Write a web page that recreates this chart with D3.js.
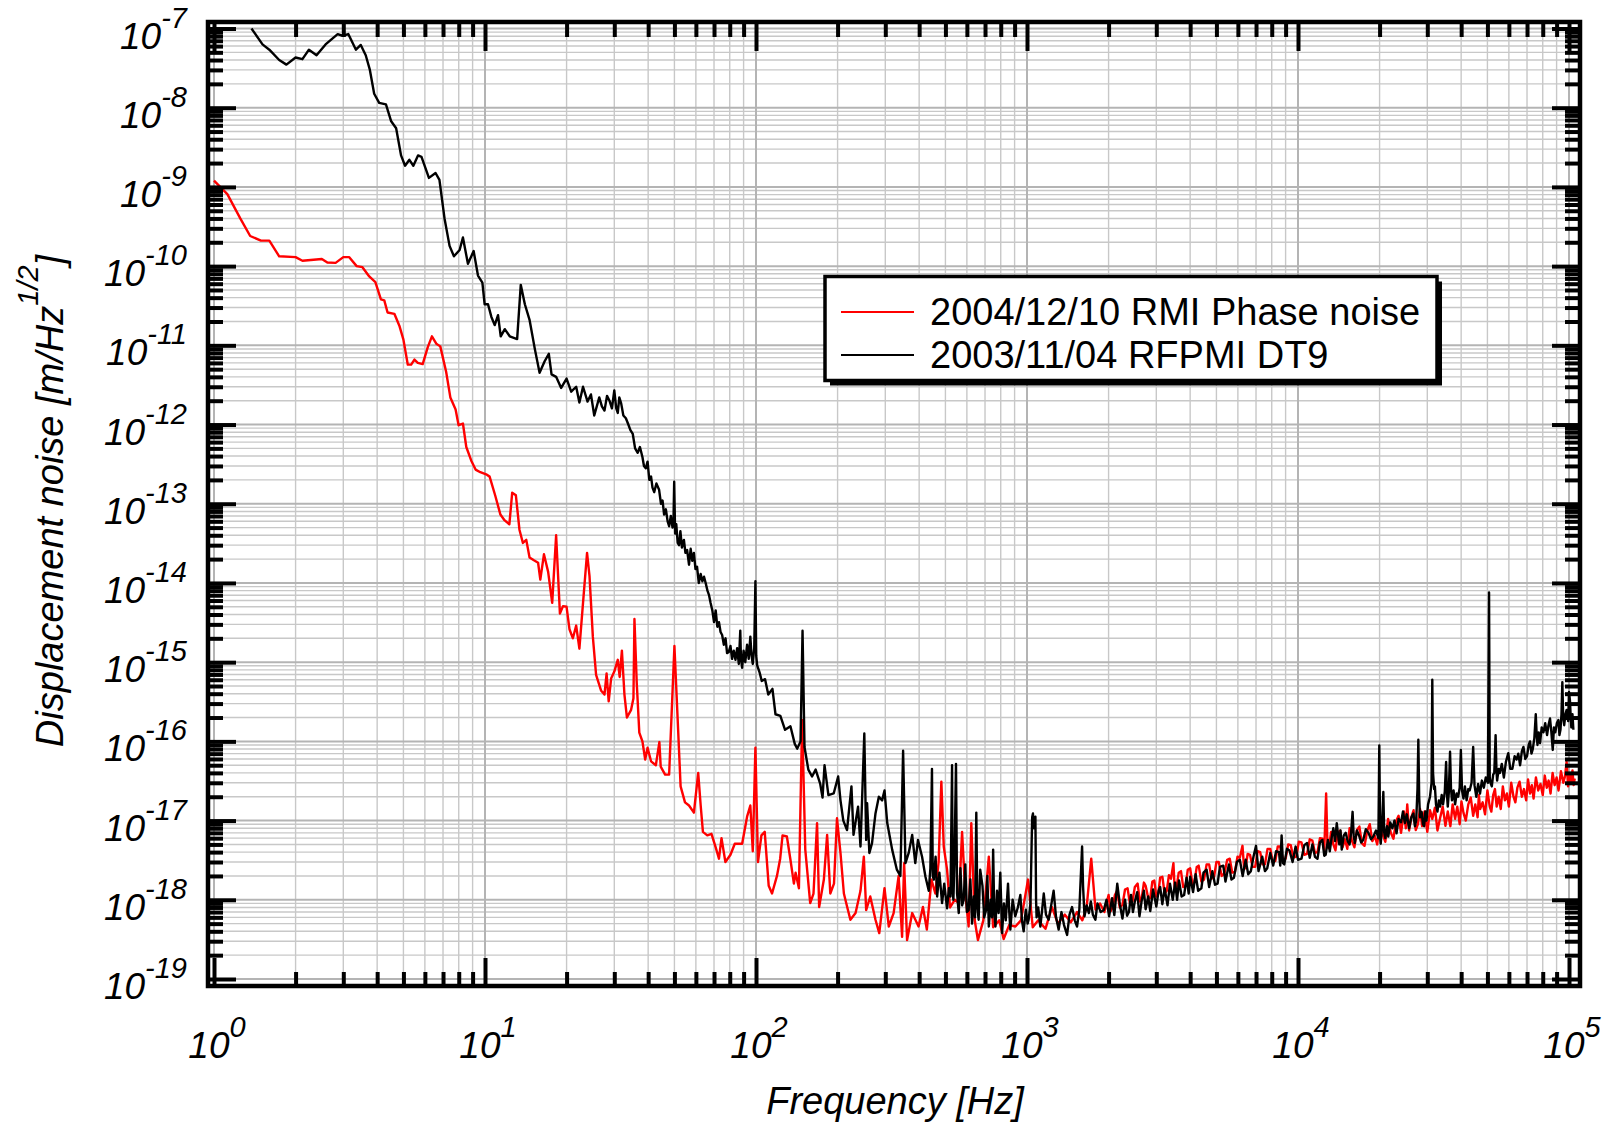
<!DOCTYPE html>
<html>
<head>
<meta charset="utf-8">
<script src="https://cdn.jsdelivr.net/npm/d3@7"></script>
<style>
  html, body { margin: 0; padding: 0; background: #fff; }
  svg { display: block; font-family: "Liberation Sans", Arial, sans-serif; }
</style>
</head>
<body>
<svg width="1605" height="1125"></svg>
<script>
// Decades shown on the axes (exponents of 10)
const xExponents = [0, 1, 2, 3, 4, 5];
const yExponents = [-7, -8, -9, -10, -11, -12, -13, -14, -15, -16, -17, -18, -19];

// Legend entries
const seriesNames = ['2004/12/10 RMI Phase noise', '2003/11/04 RFPMI DT9'];

// 2003/11/04 RFPMI DT9  [frequency Hz, displacement m/rtHz]
const rfpmiDT9 = [
  [1.375, 1.0e-7], [1.51, 6.3e-8], [1.60, 5.4e-8], [1.74, 4.0e-8], [1.85, 3.5e-8],
  [2.0, 4.3e-8], [2.12, 4.1e-8], [2.24, 5.4e-8], [2.39, 4.6e-8], [2.58, 6.3e-8],
  [2.86, 8.5e-8], [2.98, 8.1e-8], [3.13, 8.5e-8], [3.34, 5.4e-8], [3.48, 6.2e-8],
  [3.63, 4.6e-8], [3.76, 3.0e-8], [3.90, 1.5e-8], [4.07, 1.15e-8], [4.31, 1.1e-8],
  [4.50, 6.8e-9], [4.70, 5.5e-9], [4.90, 2.5e-9], [5.07, 1.85e-9], [5.26, 2.2e-9],
  [5.44, 1.85e-9], [5.66, 2.5e-9], [5.83, 2.4e-9], [6.21, 1.3e-9], [6.57, 1.5e-9],
  [6.79, 1.23e-9], [7.09, 4.0e-10], [7.40, 1.8e-10], [7.68, 1.33e-10], [8.06, 1.6e-10],
  [8.29, 2.3e-10], [8.65, 1.07e-10], [9.08, 1.55e-10], [9.42, 7.6e-11], [9.78, 6.2e-11],
  [9.97, 3.3e-11], [10.26, 3.3e-11], [10.55, 2.3e-11], [10.86, 1.8e-11], [11.17, 2.4e-11],
  [11.43, 1.3e-11], [11.83, 1.6e-11], [12.34, 1.3e-11], [13.14, 1.2e-11], [13.55, 5.8e-11],
  [14.03, 3.3e-11], [14.6, 2.1e-11], [15.3, 8.7e-12], [15.9, 4.5e-12], [16.6, 6.3e-12],
  [17.2, 7.8e-12], [17.6, 4.3e-12], [18.3, 4.0e-12], [19.1, 2.9e-12], [20.0, 3.8e-12],
  [20.8, 2.6e-12], [21.7, 3.0e-12], [22.3, 1.9e-12], [23.0, 3.0e-12], [23.9, 1.95e-12],
  [24.6, 2.4e-12], [25.3, 1.3e-12], [26.4, 2.2e-12], [27.0, 1.7e-12], [27.6, 1.5e-12],
  [28.2, 2.3e-12], [28.8, 2.0e-12], [29.4, 1.6e-12], [30.0, 2.7e-12], [30.5, 1.6e-12],
  [30.9, 1.4e-12], [31.3, 2.2e-12], [31.8, 1.85e-12], [32.4, 1.3e-12], [33.1, 1.2e-12],
  [33.8, 1.0e-12], [34.4, 8.5e-13], [35.1, 7.6e-13], [35.8, 5.0e-13], [36.6, 4.4e-13],
  [37.3, 5.2e-13], [38.1, 3.9e-13], [38.6, 3.0e-13], [39.2, 2.8e-13], [39.8, 3.4e-13],
  [40.4, 2.0e-13], [41.0, 2.2e-13], [41.5, 1.6e-13], [42.1, 1.4e-13], [42.9, 1.8e-13],
  [43.9, 1.5e-13], [44.6, 1.0e-13], [45.2, 1.1e-13], [45.8, 7.3e-14], [46.5, 8.5e-14],
  [47.2, 6.0e-14], [47.8, 5.2e-14], [48.5, 7.0e-14], [49.2, 5.0e-14], [49.6, 6.0e-14],
  [49.9, 1.9e-13], [50.3, 4.2e-14], [50.8, 5.5e-14], [51.4, 3.2e-14], [52.0, 3.0e-14],
  [52.6, 4.5e-14], [53.3, 2.8e-14], [54.2, 3.5e-14], [54.9, 2.4e-14], [55.7, 2.6e-14],
  [56.6, 1.7e-14], [57.4, 2.7e-14], [58.2, 1.9e-14], [59.0, 2.4e-14], [59.8, 1.5e-14],
  [60.6, 1.6e-14], [61.5, 1.0e-14], [62.5, 1.3e-14], [63.4, 1.05e-14], [64.3, 1.2e-14],
  [65.2, 1.0e-14], [66.2, 8.0e-15], [67.1, 7.0e-15], [68.0, 5.6e-15], [69.0, 4.5e-15],
  [70.0, 3.2e-15], [71.0, 4.5e-15], [72.0, 2.8e-15], [73.0, 3.2e-15], [74.0, 2.4e-15],
  [75.0, 2.2e-15], [76.1, 1.66e-15], [77.2, 2.0e-15], [78.2, 1.3e-15], [79.3, 1.34e-15],
  [80.5, 1.6e-15], [81.6, 1.1e-15], [82.8, 1.4e-15], [84.0, 1.07e-15], [85.2, 1.5e-15],
  [86.4, 9.5e-16], [87.5, 2.5e-15], [88.0, 1.1e-15], [88.9, 8.5e-16], [90.0, 1.4e-15],
  [91.3, 1.0e-15], [92.7, 1.66e-15], [94.0, 1.1e-15], [95.3, 2.1e-15], [96.3, 1.2e-15],
  [97.3, 9.5e-16], [98.5, 1.5e-15], [99.5, 1.05e-14], [100.2, 1.2e-15], [101, 9.1e-16],
  [103, 7.5e-16], [105, 5.8e-16], [108, 6.1e-16], [111, 3.9e-16], [115, 4.6e-16],
  [118, 2.2e-16], [123, 2.1e-16], [128, 1.4e-16], [134, 1.55e-16], [139, 9.3e-17],
  [142, 8.1e-17], [146, 1.0e-16], [148.5, 2.5e-15], [151, 8.5e-17], [156, 4.4e-17],
  [161, 3.6e-17], [166, 4.4e-17], [172.6, 2.9e-17], [176, 1.95e-17], [179, 5.0e-17],
  [185, 2.1e-17], [193.5, 2.2e-17], [201, 3.6e-17], [205, 1.8e-17], [210, 1.0e-17],
  [216.7, 7.6e-18], [225, 2.7e-17], [229, 6.6e-18], [238, 1.5e-17], [243, 4.7e-18],
  [251, 1.26e-16], [255, 5.7e-18], [257, 1.66e-17], [262, 3.9e-18], [268, 5.2e-18],
  [276, 1.23e-17], [284, 2.0e-17], [292, 1.8e-17], [298, 2.4e-17], [305, 9.3e-18],
  [318, 4.3e-18], [331, 2.4e-18], [341, 2.0e-18], [349, 7.6e-17], [356, 2.9e-18],
  [366, 3.9e-18], [377, 6.6e-18], [387, 2.9e-18], [396, 5.7e-18], [410, 3.5e-18],
  [422, 1.95e-18], [434, 1.3e-18], [440, 2.5e-18], [446, 4.5e-17], [449, 2.0e-18],
  [453, 1.8e-18], [460, 3.5e-18], [466, 1.1e-18], [475, 2.2e-18], [486, 9.1e-19],
  [495, 1.6e-18], [507, 7.8e-19], [515, 1.4e-18], [522, 1.1e-18], [529, 5.0e-17],
  [532, 1.3e-18], [535, 1.0e-18], [540, 3.0e-18], [547, 5.2e-17], [552, 1.2e-18],
  [560, 6.8e-19], [568, 2.5e-18], [576, 8.5e-19], [584, 1.0e-18], [592, 2.8e-18],
  [600, 7.0e-19], [609, 7.4e-19], [618, 1.8e-18], [627, 5.0e-19], [636, 1.1e-18],
  [643, 6.0e-19], [650, 1.26e-17], [656, 8.0e-19], [663, 5.6e-19], [672, 2.4e-18],
  [685, 1.5e-18], [695, 6.0e-19], [706, 7.4e-19], [714, 2.0e-18], [723, 4.6e-19],
  [735, 1.0e-18], [743, 6.0e-19], [750, 4.3e-18], [757, 7.0e-19], [765, 4.6e-19],
  [775, 1.3e-18], [786, 6.8e-19], [797, 2.2e-18], [809, 3.8e-19], [822, 9.0e-19],
  [835, 5.5e-19], [851, 1.6e-18], [860, 7.0e-19], [868, 4.2e-19], [885, 1.0e-18],
  [905, 6.2e-19], [925, 8.0e-19], [945, 1.15e-18], [958, 5.5e-19], [972, 4.0e-19],
  [990, 7.5e-19], [1005, 5.0e-19], [1014, 5.6e-19], [1030, 9.0e-19], [1040, 5.0e-18],
  [1045, 1.1e-17], [1052, 1.23e-17], [1060, 8.0e-18], [1074, 1.12e-17], [1080, 1.0e-18],
  [1085, 6.0e-19], [1100, 8.0e-19], [1120, 4.6e-19], [1135, 7.0e-19], [1153, 1.2e-18],
  [1175, 6.5e-19], [1202, 5.6e-19], [1228, 8.5e-19], [1254, 1.3e-18], [1280, 6.0e-19],
  [1309, 4.2e-19], [1340, 7.0e-19], [1370, 4.8e-19], [1406, 3.6e-19], [1435, 6.5e-19],
  [1466, 8.1e-19], [1500, 5.5e-19], [1530, 4.6e-19], [1560, 7.5e-19], [1597, 4.7e-18],
  [1610, 1.5e-18], [1630, 6.2e-19], [1660, 8.5e-19], [1692, 6.8e-19], [1720, 9.5e-19],
  [1750, 6.5e-19], [1788, 5.6e-19], [1820, 9.0e-19], [1870, 7.0e-19], [1920, 7.4e-19],
  [1965, 1.0e-18], [2009, 6.2e-19], [2060, 1.05e-18], [2100, 6.4e-19], [2153, 1.6e-18],
  [2200, 8.8e-19], [2250, 5.8e-19], [2300, 1.0e-18], [2340, 6.3e-19], [2378, 7.0e-19],
  [2420, 1.15e-18], [2460, 7.0e-19], [2500, 9.5e-19], [2550, 1.25e-18], [2600, 6.2e-19],
  [2650, 9.8e-19], [2700, 1.3e-18], [2740, 7.6e-19], [2800, 1.1e-18], [2850, 7.2e-19],
  [2920, 1.35e-18], [3000, 8.2e-19], [3060, 1.3e-18], [3100, 1.45e-18], [3158, 8.8e-19],
  [3220, 1.4e-18], [3300, 8.5e-19], [3370, 1.6e-18], [3450, 1.0e-18], [3520, 1.65e-18],
  [3580, 1.0e-18], [3638, 1.75e-18], [3720, 1.1e-18], [3800, 1.15e-18], [3880, 1.9e-18],
  [3950, 1.2e-18], [4000, 1.95e-18], [4100, 1.25e-18], [4190, 2.1e-18], [4280, 1.3e-18],
  [4400, 1.4e-18], [4480, 2.2e-18], [4600, 2.4e-18], [4700, 1.45e-18], [4830, 2.3e-18],
  [4940, 1.55e-18], [5050, 1.6e-18], [5150, 2.6e-18], [5300, 2.7e-18], [5400, 1.7e-18],
  [5560, 2.8e-18], [5680, 1.8e-18], [5800, 1.9e-18], [5950, 3.0e-18], [6100, 3.2e-18],
  [6250, 2.0e-18], [6410, 3.2e-18], [6550, 2.1e-18], [6700, 2.3e-18], [6850, 3.5e-18],
  [7000, 4.8e-18], [7150, 2.3e-18], [7380, 3.5e-18], [7550, 2.3e-18], [7700, 2.5e-18],
  [7900, 3.9e-18], [8100, 2.7e-18], [8300, 4.1e-18], [8510, 4.0e-18], [8600, 2.7e-18],
  [8700, 6.5e-18], [8800, 2.9e-18], [8900, 2.8e-18], [9100, 4.4e-18], [9300, 4.2e-18],
  [9550, 3.0e-18], [9800, 4.7e-18], [10000, 3.2e-18], [10300, 3.3e-18], [10550, 4.9e-18],
  [10800, 5.2e-18], [11050, 3.4e-18], [11300, 5.0e-18], [11550, 3.5e-18], [11800, 3.3e-18],
  [12050, 5.3e-18], [12300, 5.7e-18], [12500, 3.6e-18], [12650, 3.7e-18], [12900, 5.7e-18],
  [13100, 4.1e-18], [13300, 6.0e-18], [13500, 8.0e-18], [13700, 5.5e-18], [13900, 9.3e-18],
  [14100, 6.0e-18], [14200, 5.0e-18], [14350, 7.5e-18], [14500, 4.3e-18], [14750, 6.5e-18],
  [15000, 7.0e-18], [15250, 5.5e-18], [15500, 5.0e-18], [15700, 7.0e-18], [15900, 1.29e-17],
  [16050, 6.5e-18], [16200, 5.2e-18], [16500, 7.5e-18], [16800, 6.5e-18], [17100, 5.3e-18],
  [17400, 5.7e-18], [17800, 7.8e-18], [18200, 7.0e-18], [18600, 5.8e-18], [18960, 6.3e-18],
  [19400, 7.5e-18], [19800, 6.0e-18], [19950, 8.9e-17], [20100, 6.0e-18], [20200, 5.1e-18],
  [20400, 8.0e-18], [20650, 2.3e-17], [20800, 7.0e-18], [21000, 6.0e-18], [21300, 8.5e-18],
  [21540, 6.3e-18], [21900, 9.5e-18], [22300, 8.0e-18], [22700, 1.0e-17], [23100, 6.9e-18],
  [23500, 1.05e-17], [24000, 9.5e-18], [24400, 1.3e-17], [24800, 9.3e-18], [25200, 1.2e-17],
  [25700, 8.0e-18], [26200, 1.1e-17], [26650, 1.23e-17], [27000, 8.5e-18], [27300, 1.0e-17],
  [27600, 2.5e-17], [27800, 1.05e-16], [28000, 2.0e-17], [28200, 1.1e-17], [28600, 1.29e-17],
  [28900, 9.0e-18], [29200, 8.5e-18], [29500, 1.3e-17], [29800, 1.0e-17], [30200, 1.6e-17],
  [30700, 2.0e-17], [31100, 3.0e-17], [31300, 6.0e-16], [31500, 4.0e-17], [31800, 2.5e-17],
  [32000, 2.7e-17], [32300, 1.6e-17], [32700, 1.3e-17], [33100, 1.8e-17], [33450, 1.5e-17],
  [33900, 2.1e-17], [34300, 1.6e-17], [34800, 2.3e-17], [35200, 5.5e-17], [35500, 2.0e-17],
  [35700, 1.5e-17], [36000, 2.2e-17], [36400, 7.4e-17], [36700, 2.5e-17], [37000, 1.8e-17],
  [37500, 2.4e-17], [38000, 1.6e-17], [38500, 2.2e-17], [39000, 2.0e-17], [39500, 2.6e-17],
  [39900, 7.8e-17], [40300, 2.4e-17], [40800, 1.9e-17], [41300, 2.7e-17], [41900, 1.8e-17],
  [42500, 2.5e-17], [43000, 2.4e-17], [43700, 3.0e-17], [44300, 8.5e-17], [44800, 2.8e-17],
  [45500, 2.0e-17], [46200, 2.9e-17], [46950, 2.2e-17], [47700, 3.2e-17], [48500, 2.6e-17],
  [49300, 3.5e-17], [50200, 3.0e-17], [50700, 7.6e-15], [51000, 3.5e-17], [51300, 3.0e-17],
  [51900, 2.7e-17], [52500, 3.8e-17], [53000, 4.0e-17], [53600, 1.2e-16], [54000, 4.2e-17],
  [54300, 3.2e-17], [55000, 4.5e-17], [55600, 4.0e-17], [56500, 5.2e-17], [57500, 3.5e-17],
  [58500, 5.5e-17], [59700, 7.1e-17], [60700, 4.5e-17], [61800, 4.5e-17], [63000, 6.5e-17],
  [64100, 5.9e-17], [65000, 7.0e-17], [66000, 5.0e-17], [67000, 7.5e-17], [67900, 8.5e-17],
  [69000, 6.0e-17], [70000, 6.5e-17], [71000, 9.0e-17], [71800, 1.0e-16], [72700, 7.0e-17],
  [73500, 8.0e-17], [74500, 1.1e-16], [75400, 2.2e-16], [76000, 1.2e-16], [76500, 9.0e-17],
  [77300, 1.3e-16], [78200, 9.5e-17], [79300, 1.5e-16], [80500, 1.3e-16], [81700, 1.7e-16],
  [83000, 1.2e-16], [84000, 1.6e-16], [85100, 1.95e-16], [86100, 1.3e-16], [87100, 7.8e-17],
  [88000, 1.5e-16], [89000, 1.3e-16], [90200, 1.7e-16], [91400, 1.86e-16], [92200, 1.2e-16],
  [93000, 1.4e-16], [93800, 2.2e-16], [94500, 5.6e-16], [95200, 2.0e-16], [96000, 1.6e-16],
  [97000, 2.2e-16], [98000, 2.5e-16], [99300, 1.8e-16], [100000, 4.2e-16], [100800, 3.3e-16],
  [101500, 2.0e-16], [102000, 1.5e-16], [103000, 2.2e-16], [103800, 1.4e-16]
];

// 2004/12/10 RMI Phase noise  [frequency Hz, displacement m/rtHz]
const rmiPhaseNoise = [
  [1.0, 1.2e-9], [1.12, 8.1e-10], [1.25, 4.0e-10], [1.36, 2.4e-10], [1.49, 2.1e-10],
  [1.60, 2.1e-10], [1.74, 1.33e-10], [2.0, 1.3e-10], [2.12, 1.17e-10], [2.50, 1.23e-10],
  [2.62, 1.11e-10], [2.81, 1.1e-10], [3.0, 1.3e-10], [3.15, 1.3e-10], [3.36, 1.0e-10],
  [3.53, 9.7e-11], [3.74, 7.4e-11], [3.94, 6.3e-11], [4.13, 3.8e-11], [4.25, 3.7e-11],
  [4.37, 2.6e-11], [4.63, 2.5e-11], [4.83, 1.77e-11], [5.0, 1.18e-11], [5.19, 5.7e-12],
  [5.34, 5.7e-12], [5.49, 6.6e-12], [5.65, 6.0e-12], [5.89, 5.8e-12], [6.15, 9.5e-12],
  [6.37, 1.3e-11], [6.61, 1.05e-11], [6.84, 9.7e-12], [7.19, 4.6e-12], [7.45, 2.2e-12],
  [7.79, 1.55e-12], [7.99, 9.8e-13], [8.29, 1.03e-12], [8.53, 5.2e-13], [8.90, 3.5e-13],
  [9.23, 2.7e-13], [9.61, 2.5e-13], [10.1, 2.35e-13], [10.4, 2.2e-13], [10.9, 1.28e-13],
  [11.4, 7.3e-14], [11.8, 6.2e-14], [12.3, 5.5e-14], [12.6, 1.38e-13], [13.0, 1.28e-13],
  [13.4, 4.7e-14], [13.8, 3.2e-14], [14.2, 3.5e-14], [14.6, 2.1e-14], [15.1, 1.95e-14],
  [15.7, 1.8e-14], [16.0, 1.1e-14], [16.5, 2.3e-14], [17.1, 1.38e-14], [17.7, 5.6e-15],
  [18.3, 4.0e-14], [18.9, 4.1e-15], [19.4, 5.1e-15], [20.0, 5.0e-15], [20.5, 2.6e-15],
  [21.1, 2.0e-15], [21.7, 2.9e-15], [22.3, 1.48e-15], [23.0, 5.6e-15], [23.8, 2.4e-14],
  [24.3, 1.23e-14], [25.0, 2.1e-15], [25.7, 6.9e-16], [26.8, 4.4e-16], [27.6, 3.9e-16],
  [28.1, 7.2e-16], [28.6, 3.2e-16], [29.2, 6.2e-16], [30.0, 7.6e-16], [30.9, 1.07e-15],
  [31.4, 6.5e-16], [32.0, 1.4e-15], [32.7, 3.9e-16], [33.4, 2.0e-16], [34.6, 2.5e-16],
  [35.3, 3.5e-16], [35.6, 3.5e-15], [36.3, 5.5e-16], [37.1, 1.29e-16], [38.1, 1.0e-16],
  [39.0, 5.9e-17], [39.8, 8.3e-17], [41.0, 5.6e-17], [42.7, 5.0e-17], [44.0, 9.8e-17],
  [44.5, 4.8e-17], [46.2, 3.8e-17], [47.8, 3.8e-17], [48.7, 1.8e-16], [50.0, 1.6e-15],
  [51.3, 2.2e-16], [52.7, 2.7e-17], [54.7, 1.7e-17], [56.6, 1.55e-17], [59.0, 1.26e-17],
  [61.2, 4.0e-17], [62.5, 1.55e-17], [63.7, 7.2e-18], [66.1, 6.5e-18], [68.5, 6.8e-18],
  [71.0, 4.6e-18], [73.0, 3.3e-18], [74.6, 6.0e-18], [77.1, 3.0e-18], [80.5, 3.7e-18],
  [83.5, 5.1e-18], [88.9, 5.1e-18], [92.7, 1.12e-17], [95.3, 1.55e-17], [97.3, 4.1e-18],
  [99.5, 8.3e-17], [101.7, 3.0e-18], [104.7, 6.5e-18], [107.7, 7.2e-18], [111.4, 1.5e-18],
  [114.6, 1.2e-18], [119.5, 2.0e-18], [122.8, 3.3e-18], [125.3, 6.5e-18], [130, 6.3e-18],
  [134, 3.2e-18], [138, 1.6e-18], [140, 2.2e-18], [144, 1.4e-18], [148, 1.86e-16],
  [152, 4.3e-18], [158.5, 9.1e-19], [163, 1.2e-18], [168, 9.3e-18], [171, 8.1e-19],
  [178, 1.8e-18], [183, 6.6e-18], [188, 1.2e-18], [194, 1.6e-18], [199, 1.07e-17],
  [205, 3.9e-18], [211, 1.2e-18], [217, 8.1e-19], [223, 5.6e-19], [233, 6.8e-19],
  [243, 1.3e-18], [250, 3.5e-18], [255, 7.4e-19], [264, 1.1e-18], [276, 5.6e-19],
  [285, 3.8e-19], [298, 1.4e-18], [309, 4.6e-19], [322, 6.8e-19], [336, 2.0e-18],
  [346, 3.4e-19], [352, 2.9e-18], [361, 3.1e-19], [377, 6.8e-19], [398, 4.6e-19],
  [413, 8.1e-19], [427, 4.2e-19], [444, 1.8e-18], [459, 1.2e-18], [472, 3.0e-18],
  [483, 3.1e-17], [493, 4.7e-18], [507, 2.4e-18], [520, 8.0e-19], [541, 1.0e-18],
  [560, 9.1e-19], [576, 7.2e-18], [592, 1.2e-18], [609, 4.6e-19], [623, 9.3e-18],
  [641, 5.6e-19], [659, 3.1e-19], [690, 5.5e-19], [723, 3.5e-18], [750, 4.5e-19],
  [790, 5.5e-19], [820, 3.2e-19], [860, 4.8e-19], [906, 4.6e-19], [950, 5.5e-19],
  [1009, 1.8e-18], [1050, 4.5e-19], [1100, 5.5e-19], [1170, 4.3e-19], [1236, 8.1e-19],
  [1300, 5.0e-19], [1380, 6.5e-19], [1450, 5.2e-19], [1530, 7.0e-19], [1600, 5.5e-19],
  [1660, 8.0e-19], [1726, 3.3e-18], [1790, 7.5e-19], [1860, 9.0e-19], [1930, 7.0e-19],
  [2000, 1.15e-18], [2035, 7.2e-19], [2070, 8.0e-19], [2110, 1.15e-18], [2150, 1.3e-18],
  [2200, 8.0e-19], [2250, 8.6e-19], [2300, 1.35e-18], [2350, 1.4e-18], [2400, 8.8e-19],
  [2450, 9.5e-19], [2500, 1.45e-18], [2560, 1.6e-18], [2610, 9.5e-19], [2650, 1.05e-18],
  [2700, 1.65e-18], [2740, 1.5e-18], [2800, 1.05e-18], [2850, 1.05e-18], [2900, 1.7e-18],
  [2950, 1.75e-18], [3000, 1.1e-18], [3050, 1.2e-18], [3100, 1.9e-18], [3160, 1.95e-18],
  [3220, 1.2e-18], [3280, 1.3e-18], [3340, 2.05e-18], [3400, 1.85e-18], [3470, 2.9e-18],
  [3510, 1.3e-18], [3560, 1.4e-18], [3630, 2.2e-18], [3700, 2.3e-18], [3770, 1.45e-18],
  [3850, 1.5e-18], [3920, 2.4e-18], [4000, 2.5e-18], [4080, 1.55e-18], [4150, 1.7e-18],
  [4230, 2.6e-18], [4300, 2.7e-18], [4400, 1.7e-18], [4500, 1.8e-18], [4600, 2.8e-18],
  [4700, 2.8e-18], [4800, 1.85e-18], [4900, 1.95e-18], [5000, 3.0e-18], [5100, 3.0e-18],
  [5230, 2.0e-18], [5350, 2.15e-18], [5480, 3.2e-18], [5600, 3.3e-18], [5720, 2.2e-18],
  [5850, 2.25e-18], [5980, 3.5e-18], [6100, 3.4e-18], [6240, 4.8e-18], [6320, 2.6e-18],
  [6400, 2.5e-18], [6520, 3.8e-18], [6650, 3.7e-18], [6800, 2.6e-18], [6950, 2.6e-18],
  [7100, 4.1e-18], [7250, 4.0e-18], [7400, 2.8e-18], [7550, 2.8e-18], [7720, 4.4e-18],
  [7900, 4.4e-18], [8070, 3.0e-18], [8250, 3.1e-18], [8420, 4.7e-18], [8600, 4.7e-18],
  [8800, 3.2e-18], [9000, 3.3e-18], [9200, 5.0e-18], [9400, 4.9e-18], [9620, 3.4e-18],
  [9850, 3.5e-18], [10070, 5.4e-18], [10300, 5.3e-18], [10550, 3.7e-18], [10800, 3.8e-18],
  [11050, 5.8e-18], [11300, 5.6e-18], [11550, 3.9e-18], [11800, 4.0e-18], [12050, 6.0e-18],
  [12300, 5.9e-18], [12500, 4.2e-18], [12700, 2.2e-17], [12850, 4.6e-18], [13000, 4.5e-18],
  [13250, 7.2e-18], [13500, 5.0e-18], [13750, 4.2e-18], [14000, 6.8e-18], [14300, 7.5e-18],
  [14600, 4.6e-18], [14900, 5.8e-18], [15200, 4.4e-18], [15500, 8.0e-18], [15800, 5.6e-18],
  [16150, 4.6e-18], [16500, 7.6e-18], [16850, 8.4e-18], [17200, 5.2e-18], [17600, 4.8e-18],
  [18000, 7.4e-18], [18400, 9.0e-18], [18800, 5.5e-18], [19200, 6.4e-18], [19600, 5.0e-18],
  [20100, 9.5e-18], [20500, 6.8e-18], [21000, 5.4e-18], [21500, 1.05e-17], [22000, 7.0e-18],
  [22500, 5.9e-18], [23000, 9.8e-18], [23500, 1.15e-17], [24000, 7.0e-18], [24600, 1.3e-17],
  [25000, 8.0e-18], [25300, 1.6e-17], [25700, 7.5e-18], [26200, 1.1e-17], [26700, 1.35e-17],
  [27200, 7.6e-18], [27700, 9.0e-18], [28200, 1.4e-17], [28700, 8.5e-18], [29300, 1.3e-17],
  [30000, 7.2e-18], [30700, 1.35e-17], [31300, 1.05e-17], [32000, 1.45e-17], [32700, 7.5e-18],
  [33500, 1.1e-17], [34200, 1.5e-17], [35000, 8.6e-18], [35700, 1.3e-17], [36500, 8.5e-18],
  [37200, 1.6e-17], [38000, 1.05e-17], [38700, 1.5e-17], [39500, 9.0e-18], [40100, 1.75e-17],
  [40800, 1.25e-17], [41600, 1.0e-17], [42500, 1.6e-17], [43400, 1.95e-17], [44300, 1.15e-17],
  [45100, 1.6e-17], [46000, 1.1e-17], [46500, 2.1e-17], [47000, 1.4e-17], [48000, 1.7e-17],
  [49000, 1.2e-17], [50000, 2.4e-17], [51000, 1.5e-17], [51700, 1.3e-17], [52500, 2.1e-17],
  [53300, 2.5e-17], [54100, 1.5e-17], [55000, 2.0e-17], [56000, 1.4e-17], [57000, 2.7e-17],
  [58000, 1.8e-17], [59000, 2.2e-17], [60000, 1.5e-17], [61200, 3.0e-17], [62400, 2.0e-17],
  [63400, 1.7e-17], [64500, 2.6e-17], [65700, 3.1e-17], [67000, 2.0e-17], [68200, 2.5e-17],
  [69500, 1.8e-17], [70600, 3.3e-17], [71800, 2.2e-17], [72900, 2.8e-17], [74000, 1.9e-17],
  [75500, 3.5e-17], [77000, 2.4e-17], [78500, 2.9e-17], [80000, 2.1e-17], [81400, 3.7e-17],
  [82800, 2.6e-17], [84100, 3.2e-17], [85500, 2.2e-17], [87000, 4.0e-17], [88500, 2.8e-17],
  [90000, 3.5e-17], [91500, 2.4e-17], [93400, 4.2e-17], [95300, 3.0e-17], [96600, 3.6e-17],
  [98000, 5.5e-17], [99200, 2.7e-17], [100500, 3.8e-17], [101700, 2.9e-17], [103000, 4.3e-17],
  [104000, 2.8e-17], [105000, 3.4e-17]
];

const svg = d3.select('svg');

// plot frame (spine centres)
const frame = { left: 208, right: 1580, top: 22, bottom: 986 };

// log scales, decades pinned to where the reference puts them
const x = d3.scaleLog().domain([1, 1e5]).range([214, 1569]);
const y = d3.scaleLog().domain([1e-7, 1e-19]).range([28.5, 979]);

const xMajor = xExponents.map(k => Math.pow(10, k));
const yMajor = yExponents.map(k => Math.pow(10, k));
const xMinor = [];
const yMinor = [];
xMajor.slice(0, -1).forEach(d => { for (let m = 2; m < 10; m++) xMinor.push(d * m); });
yMajor.slice(1).forEach(d => { for (let m = 2; m < 10; m++) yMinor.push(d * m); });

// grid
const grid = svg.append('g').attr('class', 'grid');
grid.selectAll('line.vminor').data(xMinor).enter().append('line')
    .attr('x1', d => x(d)).attr('x2', d => x(d))
    .attr('y1', frame.top).attr('y2', frame.bottom)
    .attr('stroke', '#c8c8c8').attr('stroke-width', 1.4);
grid.selectAll('line.hminor').data(yMinor).enter().append('line')
    .attr('y1', d => y(d)).attr('y2', d => y(d))
    .attr('x1', frame.left).attr('x2', frame.right)
    .attr('stroke', '#c8c8c8').attr('stroke-width', 1.4);
grid.selectAll('line.vmajor').data(xMajor).enter().append('line')
    .attr('x1', d => x(d)).attr('x2', d => x(d))
    .attr('y1', frame.top).attr('y2', frame.bottom)
    .attr('stroke', '#b4b4b4').attr('stroke-width', 2);
grid.selectAll('line.hmajor').data(yMajor).enter().append('line')
    .attr('y1', d => y(d)).attr('y2', d => y(d))
    .attr('x1', frame.left).attr('x2', frame.right)
    .attr('stroke', '#b4b4b4').attr('stroke-width', 2);

// curves
svg.append('clipPath').attr('id', 'plotclip').append('rect')
    .attr('x', frame.left).attr('y', frame.top)
    .attr('width', frame.right - frame.left).attr('height', frame.bottom - frame.top);

const line = d3.line().x(d => x(d[0])).y(d => y(d[1]));

const curves = svg.append('g').attr('clip-path', 'url(#plotclip)');
curves.append('path').datum(rmiPhaseNoise)
    .attr('d', line).attr('fill', 'none')
    .attr('stroke', '#ff0000').attr('stroke-width', 2.4).attr('stroke-linejoin', 'round');
curves.append('path').datum(rfpmiDT9)
    .attr('d', line).attr('fill', 'none')
    .attr('stroke', '#000').attr('stroke-width', 2.4).attr('stroke-linejoin', 'round');

// ticks on all four sides, pointing inwards
function ticks(axis, values, size, transform) {
    svg.append('g')
        .attr('transform', transform)
        .call(axis.tickValues(values).tickSize(-size).tickFormat(''))
        .call(g => g.select('.domain').remove())
        .call(g => g.selectAll('.tick line').attr('stroke-width', 4));
}
ticks(d3.axisBottom(x), xMajor, 28, `translate(0,${frame.bottom})`);
ticks(d3.axisBottom(x), xMinor, 14, `translate(0,${frame.bottom})`);
ticks(d3.axisTop(x), xMajor, 29, `translate(0,${frame.top})`);
ticks(d3.axisTop(x), xMinor, 15, `translate(0,${frame.top})`);
ticks(d3.axisLeft(y), yMajor, 28, `translate(${frame.left},0)`);
ticks(d3.axisLeft(y), yMinor, 15, `translate(${frame.left},0)`);
ticks(d3.axisRight(y), yMajor, 28, `translate(${frame.right},0)`);
ticks(d3.axisRight(y), yMinor, 15, `translate(${frame.right},0)`);

// frame
svg.append('rect')
    .attr('x', frame.left).attr('y', frame.top)
    .attr('width', frame.right - frame.left).attr('height', frame.bottom - frame.top)
    .attr('fill', 'none').attr('stroke', '#000').attr('stroke-width', 4.5);

// tick labels: 10 with superscript exponent
const xLabels = svg.append('g').attr('font-style', 'italic');
xExponents.forEach(k => {
    const t = xLabels.append('text')
        .attr('x', x(Math.pow(10, k)) + 3).attr('y', 1058)
        .attr('text-anchor', 'middle');
    t.append('tspan').attr('font-size', 37).text('10');
    t.append('tspan').attr('font-size', 29).attr('dy', -21).text(k);
});
const yLabels = svg.append('g').attr('font-style', 'italic');
yExponents.forEach(k => {
    const t = yLabels.append('text')
        .attr('x', 187).attr('y', y(Math.pow(10, k)) + 20)
        .attr('text-anchor', 'end');
    t.append('tspan').attr('font-size', 37).text('10');
    t.append('tspan').attr('font-size', 29).attr('dy', -21).text(k);
});

// axis titles
svg.append('text')
    .attr('x', 895).attr('y', 1114)
    .attr('text-anchor', 'middle')
    .attr('font-size', 38).attr('font-style', 'italic')
    .text('Frequency [Hz]');

const yTitle = svg.append('text')
    .attr('transform', 'translate(63,501) rotate(-90)')
    .attr('text-anchor', 'middle')
    .attr('font-size', 38).attr('font-style', 'italic');
yTitle.append('tspan').text('Displacement noise [m/Hz');
yTitle.append('tspan').attr('font-size', 29).attr('dy', -25).text('1/2');
yTitle.append('tspan').attr('dy', 25).text(']');

// legend
const legend = svg.append('g');
legend.append('rect')
    .attr('x', 830).attr('y', 281.5).attr('width', 612).attr('height', 104)
    .attr('fill', '#000');
legend.append('rect')
    .attr('x', 825).attr('y', 276.5).attr('width', 612).attr('height', 104)
    .attr('fill', '#fff').attr('stroke', '#000').attr('stroke-width', 3.5);

const legendColors = ['#ff0000', '#000'];
seriesNames.forEach((name, i) => {
    const ly = 312 + i * 43;
    legend.append('line')
        .attr('x1', 841).attr('x2', 914).attr('y1', ly).attr('y2', ly)
        .attr('stroke', legendColors[i]).attr('stroke-width', 2.2);
    legend.append('text')
        .attr('x', 930).attr('y', ly + 13)
        .attr('font-size', 38)
        .text(name);
});
</script>
</body>
</html>
